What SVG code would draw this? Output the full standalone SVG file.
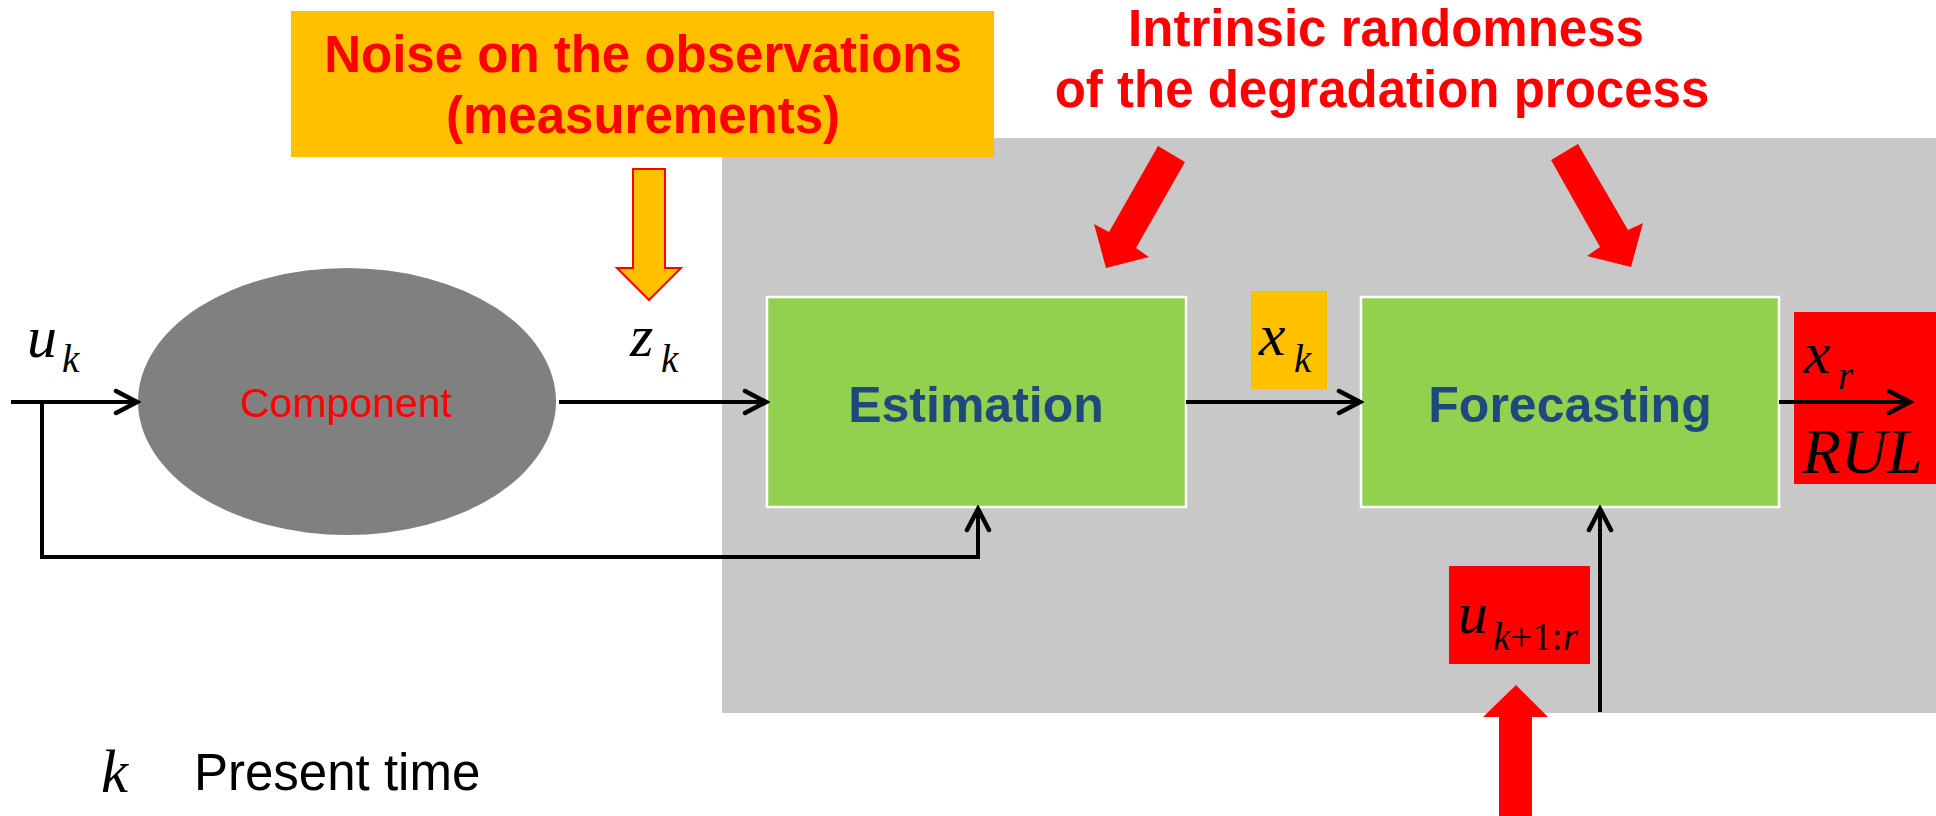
<svg xmlns="http://www.w3.org/2000/svg" width="1936" height="816" viewBox="0 0 1936 816">
<style>
.bold{font-family:"Liberation Sans",Arial,sans-serif;font-weight:bold;}
.red{fill:#FF0000;}
.blue{fill:#1F497D;font-size:50px;}
.math{font-family:"Liberation Serif","Times New Roman",serif;font-style:italic;fill:#000;}
.box{fill:#92D050;stroke:#FFFFFF;stroke-width:2.5;}
.conn{fill:none;stroke:#000;stroke-width:4;}
.blk{fill:#FF0000;stroke:none;}
</style>
<defs>
<marker id="chev" markerUnits="userSpaceOnUse" markerWidth="30" markerHeight="30" viewBox="-26 -15 30 30" refX="0" refY="0" orient="auto">
<path d="M-21,-11 L0,0 L-21,11" fill="none" stroke="#000" stroke-width="4.5" stroke-linecap="round" stroke-linejoin="miter"/>
</marker>
</defs>
<rect x="0" y="0" width="1936" height="816" fill="#FFFFFF"/>
<g id="background">
<rect x="722" y="138" width="1214" height="575" fill="#C8C8C8"/>
</g>
<g id="noise-label">
<rect x="291" y="11" width="703" height="146" fill="#FFC000"/>
<text class="bold red" x="643" y="72" font-size="51" text-anchor="middle">Noise on the observations</text>
<text class="bold red" x="643" y="133" font-size="51" text-anchor="middle">(measurements)</text>
</g>
<g id="noise-arrow">
<polygon points="633,169 665,169 665,268 681,268 649,300 617,268 633,268" fill="#FFC000" stroke="#FF0000" stroke-width="2"/>
</g>
<g id="randomness-label">
<text class="bold red" x="1386" y="46" font-size="51" text-anchor="middle">Intrinsic randomness</text>
<text class="bold red" x="1382" y="107" font-size="51" text-anchor="middle">of the degradation process</text>
</g>
<g id="randomness-arrows">
<polygon class="blk" points="1158,146 1185,162 1136,248 1149,257 1106,268 1094,224 1109,232"/>
<polygon class="blk" points="1578,144 1628,230 1643,223 1631,267 1587,256 1600,247 1551,160"/>
</g>
<g id="component">
<ellipse cx="347" cy="401.5" rx="209" ry="133.5" fill="#808080"/>
<text x="346" y="417" font-family="'Liberation Sans',Arial,sans-serif" font-size="41" fill="#FF0000" text-anchor="middle">Component</text>
</g>
<g id="estimation">
<rect class="box" x="767" y="297" width="419" height="210"/>
<text class="bold blue" x="976" y="422" text-anchor="middle">Estimation</text>
</g>
<g id="forecasting">
<rect class="box" x="1361" y="297" width="418" height="210"/>
<text class="bold blue" x="1570" y="422" text-anchor="middle">Forecasting</text>
</g>
<g id="xk-label">
<rect x="1251" y="291" width="76" height="98" fill="#FFC000"/>
</g>
<g id="rul-output">
<rect x="1794" y="312" width="142" height="172" fill="#FF0000"/>
</g>
<g id="future-input">
<rect x="1449" y="566" width="141" height="98" fill="#FF0000"/>
</g>
<g id="connectors">
<path class="conn" d="M11,402 L137,402" marker-end="url(#chev)"/>
<path class="conn" d="M42,402 L42,557 L978,557 L978,509" marker-end="url(#chev)"/>
<path class="conn" d="M559,402 L766,402" marker-end="url(#chev)"/>
<path class="conn" d="M1186,402 L1360,402" marker-end="url(#chev)"/>
<path class="conn" d="M1779,402 L1910,402" marker-end="url(#chev)"/>
<path class="conn" d="M1600,712 L1600,509" marker-end="url(#chev)"/>
<polygon class="blk" points="1499,816 1499,717 1483,717 1516,685 1548,717 1532,717 1532,816"/>
</g>
<g id="math-labels">
<text class="math" x="27" y="357" font-size="60">u</text>
<text class="math" x="62" y="372" font-size="39">k</text>
<text class="math" x="630" y="356" font-size="60">z</text>
<text class="math" x="661" y="372" font-size="39">k</text>
<text class="math" x="1259" y="355" font-size="60">x</text>
<text class="math" x="1294" y="372" font-size="39">k</text>
<text class="math" x="1804" y="373" font-size="60">x</text>
<text class="math" x="1838" y="389" font-size="39">r</text>
<text class="math" x="1802" y="473" font-size="64">RUL</text>
<text class="math" x="1458" y="633" font-size="60">u</text>
<text class="math" x="1493" y="650" font-size="39">k<tspan font-style="normal">+1:</tspan>r</text>
</g>
<g id="legend">
<text class="math" x="101" y="792" font-size="61">k</text>
<text x="194" y="790" font-family="'Liberation Sans',Arial,sans-serif" font-size="51" fill="#000">Present time</text>
</g>
</svg>
